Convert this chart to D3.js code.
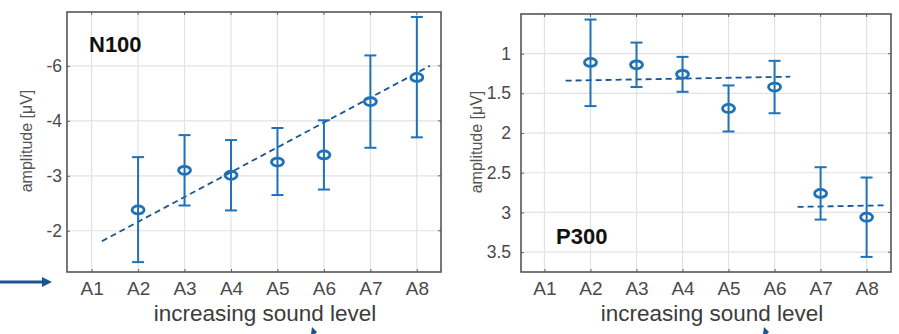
<!DOCTYPE html>
<html>
<head>
<meta charset="utf-8">
<script src="https://cdn.jsdelivr.net/npm/d3@7"></script>
<style>
  body { margin: 0; background: #fff; }
  svg { display: block; font-family: "Liberation Sans", Arial, sans-serif; }
</style>
</head>
<body>
<div id="chart"></div>
<script>
// categories on the x axis
const categories = ["A1", "A2", "A3", "A4", "A5", "A6", "A7", "A8"];

// N100 (left panel), y axis reversed
const n100Mean  = [null, -2.38, -3.10, -3.01, -3.25, -3.38, -4.35, -4.79];
const n100Upper = [null, -3.34, -3.74, -3.65, -3.87, -4.01, -5.19, -5.89];
const n100Lower = [null, -1.43, -2.46, -2.37, -2.65, -2.75, -3.51, -3.70];
const n100Ticks = [-5, -4, -3, -2];
const n100TickLabels = ["-6", "-4", "-3", "-2"];
const n100Fits = [[[1.22, -1.81], [8.28, -5.00]]];

// P300 (right panel)
const p300Mean  = [null, 1.11, 1.14, 1.26, 1.69, 1.42, 2.76, 3.06];
const p300Upper = [null, 0.57, 0.86, 1.04, 1.40, 1.09, 2.43, 2.56];
const p300Lower = [null, 1.66, 1.42, 1.48, 1.98, 1.75, 3.09, 3.56];
const p300Ticks = [1, 1.5, 2, 2.5, 3, 3.5];
const p300TickLabels = ["1", "1.5", "2", "2.5", "3", "3.5"];
const p300Fits = [[[1.46, 1.34], [6.34, 1.29]], [[6.50, 2.93], [8.40, 2.91]]];

const W = 899, H = 334;
const barColor = "#1f72b8";
const fitColor = "#1a5593";

const svg = d3.select("#chart").append("svg")
  .attr("width", W)
  .attr("height", H);

function drawPanel(p) {
  let x = d3.scaleLinear().domain(p.xDomain).range([p.left, p.right]);
  let y = d3.scaleLinear().domain(p.yDomain).range([p.bottom, p.top]);
  let g = svg.append("g");
  let idx = d3.range(categories.length).map(d => d + 1);

  // grid
  g.selectAll(".gx").data(idx).enter().append("line")
    .attr("x1", d => x(d)).attr("x2", d => x(d))
    .attr("y1", p.top).attr("y2", p.bottom)
    .attr("stroke", "#e2e2e2").attr("stroke-width", 1.2);
  g.selectAll(".gy").data(p.ticks).enter().append("line")
    .attr("x1", p.left).attr("x2", p.right)
    .attr("y1", d => y(d)).attr("y2", d => y(d))
    .attr("stroke", "#e2e2e2").attr("stroke-width", 1.2);

  // axes (ticks inward, labels outside)
  let xAxis = d3.axisBottom(x).tickValues(idx)
    .tickFormat((d, i) => categories[i]).tickSizeInner(-3).tickSizeOuter(0).tickPadding(10);
  let gx = g.append("g").attr("transform", "translate(0," + p.bottom + ")").call(xAxis);
  gx.select(".domain").remove();
  gx.selectAll("line").attr("stroke", "#666");
  gx.selectAll("text").attr("fill", "#4a4a4a").style("font-size", "19px");

  let yAxis = d3.axisLeft(y).tickValues(p.ticks)
    .tickFormat((d, i) => p.tickLabels[i]).tickSizeInner(-3).tickSizeOuter(0).tickPadding(p.yPad);
  let gy = g.append("g").attr("transform", "translate(" + p.left + ",0)").call(yAxis);
  gy.select(".domain").remove();
  gy.selectAll("line").attr("stroke", "#666");
  gy.selectAll("text").attr("fill", "#4a4a4a").style("font-size", "17.5px");

  // top / right ticks
  g.selectAll(".tt").data(idx).enter().append("line")
    .attr("x1", d => x(d)).attr("x2", d => x(d))
    .attr("y1", p.top).attr("y2", p.top + 3).attr("stroke", "#666");
  g.selectAll(".tr").data(p.ticks).enter().append("line")
    .attr("x1", p.right - 3).attr("x2", p.right)
    .attr("y1", d => y(d)).attr("y2", d => y(d)).attr("stroke", "#666");

  // box
  g.append("rect")
    .attr("x", p.left).attr("y", p.top)
    .attr("width", p.right - p.left).attr("height", p.bottom - p.top)
    .attr("fill", "none").attr("stroke", "#555").attr("stroke-width", 1.6);

  // fit lines
  let line = d3.line().x(d => x(d[0])).y(d => y(d[1]));
  p.fits.forEach(f => {
    g.append("path").datum(f).attr("d", line)
      .attr("fill", "none").attr("stroke", fitColor)
      .attr("stroke-width", 1.8).attr("stroke-dasharray", "6,4");
  });

  // error bars
  let pts = idx.map((d, i) => ({ x: d, m: p.mean[i], u: p.upper[i], l: p.lower[i] }))
    .filter(d => d.m != null);
  let eb = g.selectAll(".eb").data(pts).enter().append("g");
  eb.append("line")
    .attr("x1", d => x(d.x)).attr("x2", d => x(d.x))
    .attr("y1", d => y(d.u)).attr("y2", d => y(d.l))
    .attr("stroke", barColor).attr("stroke-width", 2);
  [ "u", "l" ].forEach(k => {
    eb.append("line")
      .attr("x1", d => x(d.x) - 6).attr("x2", d => x(d.x) + 6)
      .attr("y1", d => y(d[k])).attr("y2", d => y(d[k]))
      .attr("stroke", barColor).attr("stroke-width", 2);
  });
  eb.append("ellipse")
    .attr("cx", d => x(d.x)).attr("cy", d => y(d.m))
    .attr("rx", 6).attr("ry", 4)
    .attr("fill", "none").attr("stroke", barColor).attr("stroke-width", 2.8);

  // label in plot
  g.append("text")
    .attr("x", p.labelX).attr("y", p.labelY)
    .attr("font-weight", "bold").attr("font-size", 22).attr("fill", "#111")
    .text(p.label);

  // axis titles
  g.append("text")
    .attr("transform", "translate(" + p.yTitleX + "," + p.yTitleY + ") rotate(-90)")
    .attr("text-anchor", "middle").attr("font-size", 16).attr("fill", "#555")
    .text("amplitude [\u03bcV]");
  g.append("text")
    .attr("x", p.titleX).attr("y", 321)
    .attr("text-anchor", "middle").attr("font-size", 22.5).attr("fill", "#3c3c3c")
    .text("increasing sound level");

  // cropped arrow tip under the title
  g.append("path")
    .attr("d", "M" + (p.tipX) + ",327 l5,5 l-2,2 l-4,0 z")
    .attr("fill", fitColor);
}

drawPanel({
  left: 67, right: 441, top: 12, bottom: 272,
  xDomain: [0.47, 8.52], yDomain: [-1.25, -5.98],
  mean: n100Mean, upper: n100Upper, lower: n100Lower,
  ticks: n100Ticks, tickLabels: n100TickLabels, fits: n100Fits,
  yPad: 5, label: "N100", labelX: 89, labelY: 52,
  yTitleX: 32, yTitleY: 141, titleX: 265, tipX: 312
});

drawPanel({
  left: 521, right: 891, top: 14, bottom: 272,
  xDomain: [0.49, 8.53], yDomain: [3.75, 0.5],
  mean: p300Mean, upper: p300Upper, lower: p300Lower,
  ticks: p300Ticks, tickLabels: p300TickLabels, fits: p300Fits,
  yPad: 10, label: "P300", labelX: 556, labelY: 244,
  yTitleX: 482, yTitleY: 142, titleX: 712, tipX: 764
});

// arrow on the far left
svg.append("line")
  .attr("x1", 0).attr("x2", 44).attr("y1", 282).attr("y2", 282)
  .attr("stroke", fitColor).attr("stroke-width", 3);
svg.append("path")
  .attr("d", "M42,277 L52,282 L42,287 Z")
  .attr("fill", fitColor);
</script>
</body>
</html>
